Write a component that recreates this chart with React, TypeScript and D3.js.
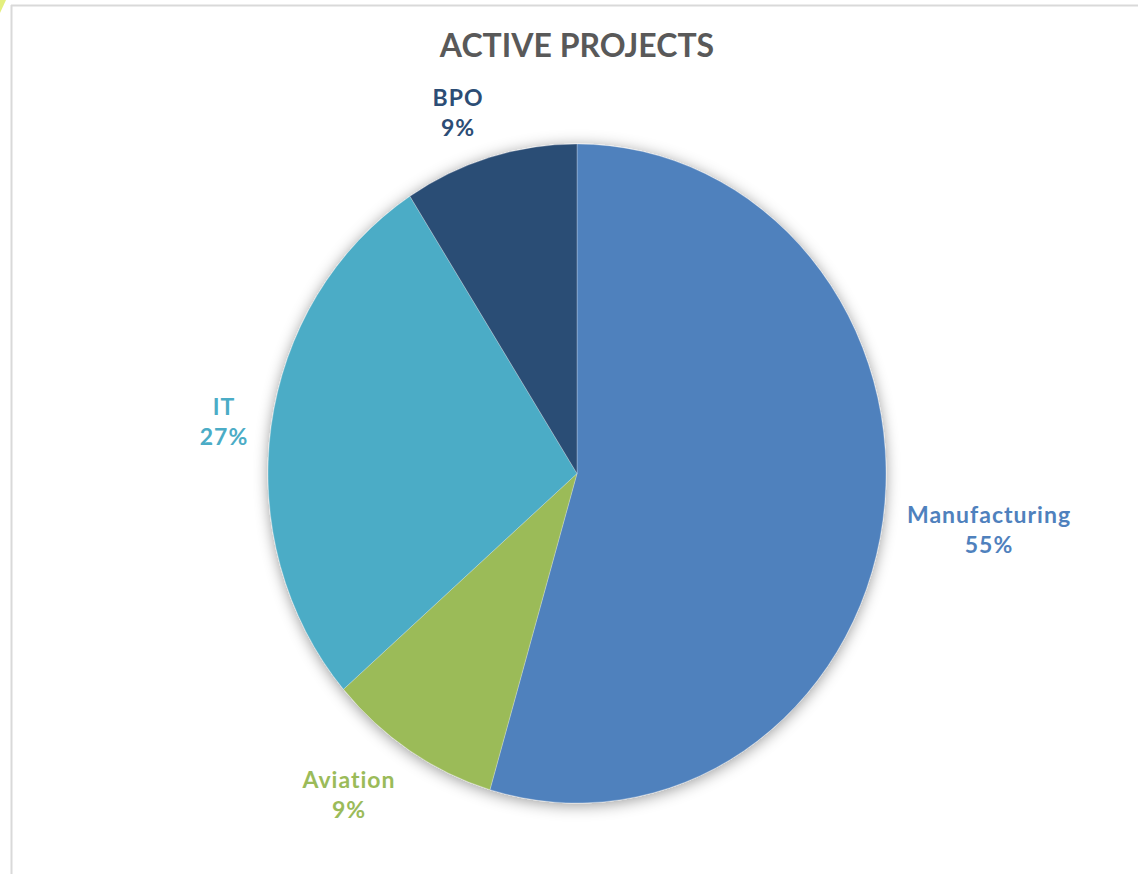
import React from "react";
import * as d3 from "d3";

const categories = ["Manufacturing", "Aviation", "IT", "BPO"];
const values = [6, 1, 3, 1];
const colors = ["#4F81BD", "#9BBB59", "#4BACC6", "#2C4D75"];
const labelPos = [
  { x: 989, y: 523 },
  { x: 349, y: 788 },
  { x: 224, y: 415 },
  { x: 458, y: 106 },
];

const W = 1138;
const H = 874;
const cx = 577;
const cy = 473.5;
const rx = 309;
const ry = 329.5;

export default function App() {
  const data = categories.map((c, i) => ({ name: c, value: values[i], color: colors[i] }));
  const total = d3.sum(values);
  const pie = d3.pie<any>().value((d: any) => d.value).sort(null);
  const arcs = pie(data);
  const arc = d3.arc<any>().innerRadius(0).outerRadius(rx);
  const font = "'Century Gothic', Lato, 'Open Sans', sans-serif";

  return (
    <svg width={W} height={H} style={{ position: "absolute", left: 0, top: 0, background: "#fff" }}>
      <defs>
        <filter id="shadow" x="-20%" y="-20%" width="140%" height="140%">
          <feDropShadow dx="0" dy="2" stdDeviation="7" floodColor="#000" floodOpacity="0.4" />
        </filter>
      </defs>
      <rect x={0} y={0} width={W} height={H} fill="#fff" />
      <polygon points="0,0 6,0 0,13" fill="#e4ef7e" />
      <line x1={11} y1={5.5} x2={W} y2={5.5} stroke="#d9d9d9" strokeWidth={2} />
      <line x1={11.5} y1={5} x2={11.5} y2={H} stroke="#d9d9d9" strokeWidth={2} />
      <text
        x={577}
        y={57}
        textAnchor="middle"
        fontFamily={font}
        fontWeight={700}
        fontSize={32}
        fill="#595959"
      >
        ACTIVE PROJECTS
      </text>
      <g transform={`translate(${cx},${cy}) scale(1,${ry / rx})`}>
        <g filter="url(#shadow)">
          {arcs.map((a, i) => (
            <path key={i} d={arc(a) as string} fill={a.data.color} stroke="#fff" strokeWidth={0.5} strokeOpacity={0.5} />
          ))}
        </g>
      </g>
      {arcs.map((a, i) => (
        <text
          key={i}
          x={labelPos[i].x}
          textAnchor="middle"
          fontFamily={font}
          fontWeight={700}
          fontSize={23}
          letterSpacing={1}
          fill={a.data.color}
        >
          <tspan x={labelPos[i].x} y={labelPos[i].y}>{a.data.name}</tspan>
          <tspan x={labelPos[i].x} y={labelPos[i].y + 30}>{`${Math.round((a.data.value / total) * 100)}%`}</tspan>
        </text>
      ))}
    </svg>
  );
}
